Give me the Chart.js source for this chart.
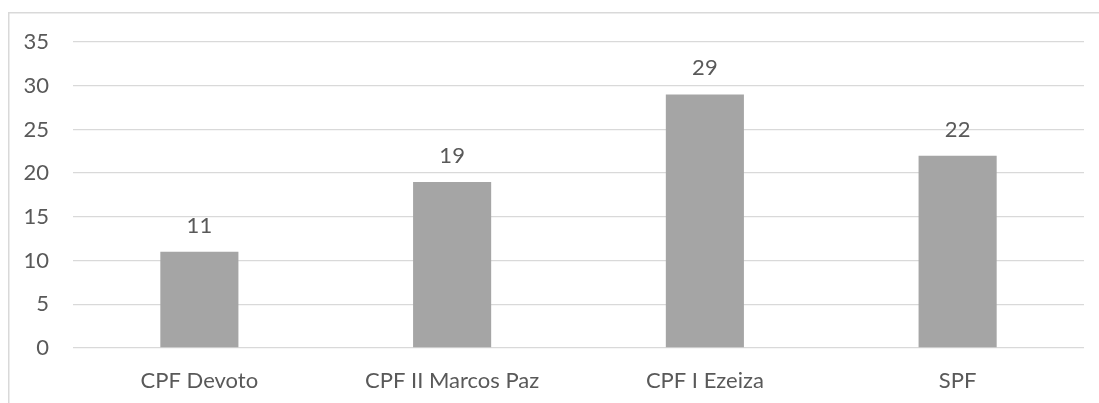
<!DOCTYPE html>
<html>
<head>
<meta charset="utf-8">
<script src="https://cdn.jsdelivr.net/npm/chart.js@4"></script>
<style>
html,body{margin:0;padding:0;background:#fff;}
#wrap{position:relative;width:1099px;height:403px;}
</style>
</head>
<body>
<div id="wrap"><canvas id="c" width="1099" height="403"></canvas></div>
<script>
const categories = ["CPF Devoto", "CPF II Marcos Paz", "CPF I Ezeiza", "SPF"];
const values = [11, 19, 29, 22];
const yTicks = [0, 5, 10, 15, 20, 25, 30, 35];

const FONT = "Lato, 'Open Sans', sans-serif";
const FSIZE = 22;
const TEXT = "#595959";

const framePlugin = {
  id: 'frame',
  beforeDraw(chart) {
    const ctx = chart.ctx;
    ctx.save();
    ctx.fillStyle = '#fff';
    ctx.fillRect(0, 0, chart.width, chart.height);
    ctx.strokeStyle = '#d9d9d9';
    ctx.lineWidth = 1.5;
    ctx.strokeRect(8.75, 12.75, 1200, 500);
    ctx.restore();
  }
};

const labelPlugin = {
  id: 'barLabels',
  afterDatasetsDraw(chart) {
    const ctx = chart.ctx;
    const meta = chart.getDatasetMeta(0);
    ctx.save();
    ctx.font = FSIZE + "px " + FONT;
    ctx.fillStyle = TEXT;
    ctx.textAlign = 'center';
    ctx.textBaseline = 'alphabetic';
    meta.data.forEach((bar, i) => {
      ctx.fillText(String(values[i]), bar.x, bar.y - 19);
    });
    ctx.restore();
  }
};

new Chart(document.getElementById('c'), {
  type: 'bar',
  data: {
    labels: categories,
    datasets: [{
      data: values,
      backgroundColor: '#a5a5a5',
      borderWidth: 0,
      barPercentage: 1,
      categoryPercentage: 0.309
    }]
  },
  options: {
    responsive: false,
    animation: false,
    devicePixelRatio: 1,
    layout: { padding: { top: 42, right: 15, left: 0, bottom: 0 } },
    plugins: { legend: { display: false }, tooltip: { enabled: false } },
    scales: {
      x: {
        grid: { display: false, drawTicks: false },
        border: { display: false },
        ticks: { color: TEXT, font: { family: FONT, size: FSIZE }, padding: 20, maxRotation: 0, autoSkip: false },
        afterFit(s) { s.height = 55; }
      },
      y: {
        min: 0, max: 35,
        afterBuildTicks(s) { s.ticks = yTicks.map(v => ({ value: v })); },
        grid: { color: '#d9d9d9', lineWidth: 1.3, drawTicks: false },
        border: { display: false },
        ticks: { color: TEXT, font: { family: FONT, size: FSIZE }, padding: 24 },
        afterFit(s) { s.width = 73; }
      }
    }
  },
  plugins: [framePlugin, labelPlugin]
});
</script>
</body>
</html>
